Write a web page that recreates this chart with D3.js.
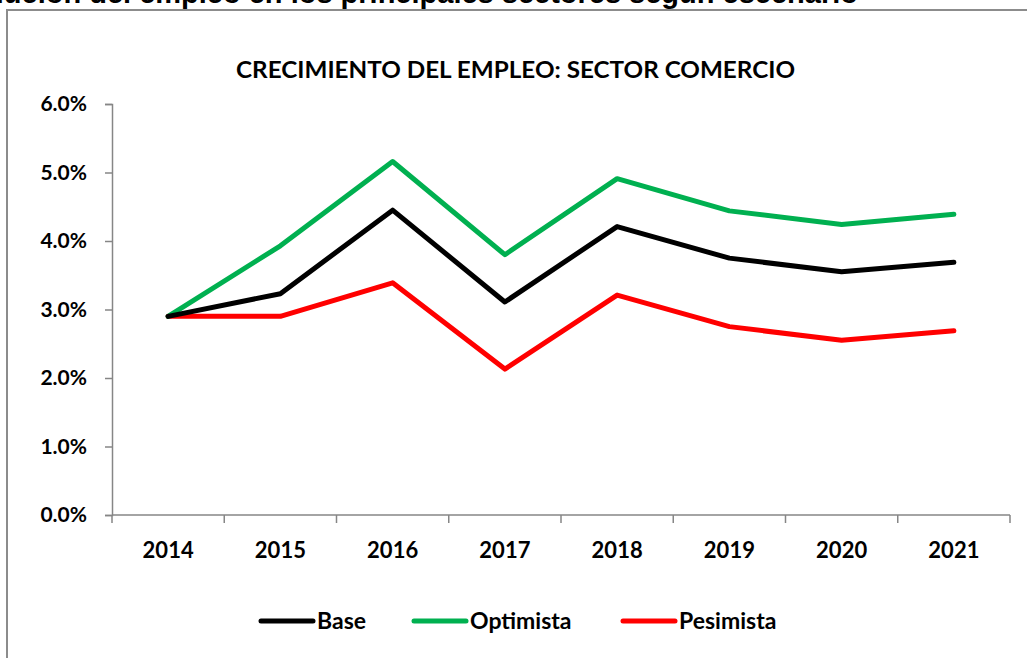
<!DOCTYPE html>
<html lang="es">
<head>
  <meta charset="UTF-8">
  <title>Crecimiento del empleo: sector comercio</title>
  <script src="https://d3js.org/d3.v7.min.js"></script>
  <style>
    body { margin: 0; background: #fff; }
    svg text { font-family: Lato, "DejaVu Sans", sans-serif; font-weight: bold; fill: #000; }
    .page-title { font-family: "Liberation Sans", Arial, sans-serif; font-size: 29px; }
  </style>
</head>
<body>
  <svg width="1027" height="658"></svg>
  <script>
    // data
    const years = ["2014", "2015", "2016", "2017", "2018", "2019", "2020", "2021"];
    const base = [0.0290, 0.0323, 0.0445, 0.0311, 0.0421, 0.0375, 0.0355, 0.0369];
    const optimista = [0.0290, 0.0393, 0.0516, 0.0380, 0.0491, 0.0444, 0.0424, 0.0439];
    const pesimista = [0.0290, 0.0290, 0.0339, 0.0213, 0.0321, 0.0275, 0.0255, 0.0269];
    const yTicks = [0, 0.01, 0.02, 0.03, 0.04, 0.05, 0.06];

    const series = [
      { name: "Base", values: base, color: "#000000" },
      { name: "Optimista", values: optimista, color: "#00B050" },
      { name: "Pesimista", values: pesimista, color: "#FF0000" }
    ];

    const svg = d3.select("svg");

    // page heading, cut at the top/left like the original
    svg.append("text")
      .attr("class", "page-title")
      .attr("x", 858)
      .attr("y", 3)
      .attr("text-anchor", "end")
      .text("Evolución del empleo en los principales sectores según escenario");

    // chart area border (runs off the right and bottom)
    svg.append("path")
      .attr("d", "M7,700 L7,10 L1040,10")
      .attr("fill", "none")
      .attr("stroke", "#8c8c8c")
      .attr("stroke-width", 2);

    svg.append("text")
      .attr("x", 236)
      .attr("y", 78)
      .attr("textLength", 559)
      .attr("lengthAdjust", "spacingAndGlyphs")
      .style("font-size", "22px")
      .text("CRECIMIENTO DEL EMPLEO: SECTOR COMERCIO");

    const margin = { top: 104, left: 112, right: 1010, bottom: 515 };

    const x = d3.scaleBand().domain(years).range([margin.left, margin.right]);
    const y = d3.scaleLinear().domain([0, 0.06]).range([margin.bottom, margin.top]);

    // y axis
    const gY = svg.append("g")
      .attr("transform", `translate(${margin.left},0)`)
      .call(d3.axisLeft(y).tickValues(yTicks).tickFormat(d3.format(".1%")).tickSize(7).tickPadding(18));
    gY.selectAll("path, line").attr("stroke", "#868686").attr("stroke-width", 1.5);
    gY.selectAll("text").style("font-size", "21px").attr("fill", "#000");

    // x axis with ticks between categories
    const gX = svg.append("g")
      .attr("transform", `translate(0,${margin.bottom})`)
      .call(d3.axisBottom(x).tickSize(0).tickPadding(0));
    gX.select(".domain").attr("stroke", "#868686").attr("stroke-width", 1.5)
      .attr("d", `M${margin.left},0H${margin.right}`);
    gX.selectAll("text").style("font-size", "22px").attr("fill", "#000").attr("dy", 0).attr("y", 43);
    const bounds = years.map(d => x(d)).concat([x(years[years.length - 1]) + x.bandwidth()]);
    gX.selectAll(".sep")
      .data(bounds)
      .enter().append("line")
      .attr("class", "sep")
      .attr("x1", d => d).attr("x2", d => d)
      .attr("y1", 0).attr("y2", 8)
      .attr("stroke", "#868686").attr("stroke-width", 1.5);

    const line = d3.line()
      .x((d, i) => x(years[i]) + x.bandwidth() / 2)
      .y(d => y(d));

    // draw pesimista first so base/optimista lie over it like the original
    [series[2], series[1], series[0]].forEach(s => {
      svg.append("path")
        .datum(s.values)
        .attr("fill", "none")
        .attr("stroke", s.color)
        .attr("stroke-width", 5)
        .attr("stroke-linecap", "round")
        .attr("stroke-linejoin", "round")
        .attr("d", line);
    });

    // legend
    const legendX = [261, 414, 623];
    const legend = svg.append("g").selectAll("g")
      .data(series)
      .enter().append("g")
      .attr("transform", (d, i) => `translate(${legendX[i]},621)`);
    legend.append("line")
      .attr("x1", 0).attr("x2", 52)
      .attr("stroke", d => d.color)
      .attr("stroke-width", 5)
      .attr("stroke-linecap", "round");
    legend.append("text")
      .attr("x", 56)
      .attr("y", 8)
      .style("font-size", "23px")
      .text(d => d.name);
  </script>
</body>
</html>
